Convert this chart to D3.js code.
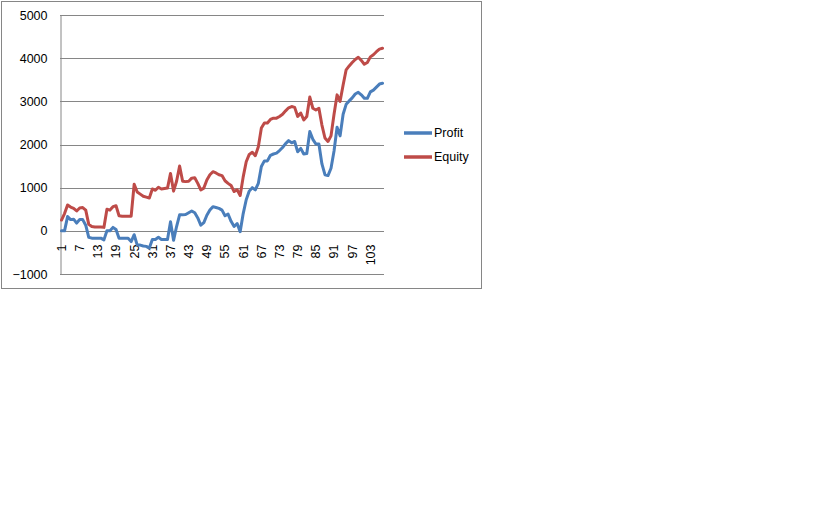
<!DOCTYPE html>
<html><head><meta charset="utf-8">
<script src="https://cdn.jsdelivr.net/npm/d3@7"></script>
<style>body{margin:0;background:#fff;}svg{display:block;}</style>
</head><body>
<script>
const categories = d3.range(1, 108);
const profit = [0,0,330,260,270,180,260,260,130,-150,-170,-170,-170,-170,-210,0,0,80,30,-170,-170,-170,-170,-250,-90,-330,-330,-350,-360,-400,-200,-200,-150,-200,-200,-200,210,-220,100,370,370,380,420,460,420,300,130,190,360,480,560,540,520,480,350,390,220,100,170,-20,400,720,920,1000,950,1100,1490,1620,1620,1750,1780,1800,1860,1930,2020,2090,2040,2070,1830,1910,1780,1790,2300,2120,2010,2010,1550,1300,1280,1450,1850,2400,2200,2700,2930,3010,3080,3170,3210,3150,3070,3070,3220,3260,3330,3400,3420];
const equity = [250,400,600,550,520,460,530,540,480,150,100,90,90,90,80,500,480,560,580,350,340,340,340,340,1080,900,850,800,780,760,970,940,1010,970,980,990,1330,920,1150,1500,1150,1140,1150,1220,1230,1100,950,990,1180,1300,1370,1340,1300,1280,1160,1100,1050,910,950,820,1250,1600,1770,1820,1740,1950,2380,2500,2500,2580,2610,2610,2650,2700,2780,2850,2880,2860,2650,2730,2570,2650,3100,2840,2800,2840,2450,2150,2070,2200,2700,3150,3000,3380,3730,3820,3900,3970,4020,3950,3860,3900,4030,4080,4150,4210,4230];
const yTicks = [-1000,0,1000,2000,3000,4000,5000];
const xLabels = categories.filter(c => (c - 1) % 6 === 0);
const seriesNames = ["Profit", "Equity"];
const colors = ["#4a7ebb", "#be4b48"];

const W = 840, H = 525;
const svg = d3.select("body").append("svg").attr("width", W).attr("height", H);
const font = "'Liberation Sans', Arial, sans-serif";

svg.append("rect").attr("x",1.5).attr("y",1.5).attr("width",480).attr("height",287)
  .attr("fill","#fff").attr("stroke","#868686").attr("stroke-width",1);

const plot = {left:60, right:384, top:15, bottom:274};
const x = d3.scaleBand().domain(categories).range([plot.left, plot.right]);
const y = d3.scaleLinear().domain([-1000,5000]).range([plot.bottom, plot.top]);

// gridlines
svg.append("g").selectAll("line").data(yTicks).join("line")
  .attr("x1", plot.left).attr("x2", plot.right)
  .attr("y1", d => Math.round(y(d))+0.5).attr("y2", d => Math.round(y(d))+0.5)
  .attr("stroke","#868686").attr("stroke-width",1);

// y axis
const yAxis = svg.append("g").attr("transform",`translate(${plot.left+0.5},0)`)
  .call(d3.axisLeft(y).tickValues(yTicks).tickSize(0).tickPadding(13).tickFormat(d3.format("d")));
yAxis.select(".domain").attr("stroke","#868686");
yAxis.selectAll("text").attr("font-family",font).attr("font-size","12.5px").attr("fill","#000");

// x labels
const xAxis = svg.append("g").attr("transform",`translate(0,${Math.round(y(0))+0.5})`)
  .call(d3.axisBottom(x).tickValues(xLabels).tickSize(0).tickPadding(0));
xAxis.select(".domain").remove();
xAxis.selectAll("text").attr("font-family",font).attr("font-size","12.5px").attr("fill","#000")
  .attr("transform","rotate(-90)").attr("text-anchor","end").attr("x",-13).attr("y",0).attr("dy","0.35em");

// lines
const data = [profit, equity];
const line = d3.line().x((d,i) => x(categories[i]) + x.bandwidth()/2).y(d => y(d));
svg.append("g").selectAll("path").data(data).join("path")
  .attr("d", d => line(d)).attr("fill","none")
  .attr("stroke",(d,i)=>colors[i]).attr("stroke-width",3)
  .attr("stroke-linejoin","round").attr("stroke-linecap","round");

// legend
const lg = svg.append("g").selectAll("g").data(seriesNames).join("g")
  .attr("transform",(d,i)=>`translate(404,${133 + i*24})`);
lg.append("line").attr("x1",0).attr("x2",28).attr("y1",0).attr("y2",0)
  .attr("stroke",(d,i)=>colors[i]).attr("stroke-width",3.5);
lg.append("text").attr("x",30).attr("y",0).attr("dy","0.35em").text(d=>d)
  .attr("font-family",font).attr("font-size","12.5px").attr("fill","#000");
</script>
</body></html>
